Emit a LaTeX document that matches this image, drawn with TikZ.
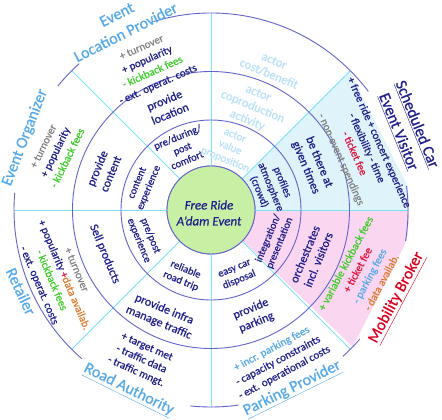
\documentclass[tikz,border=0pt]{standalone}
\usepackage{fontspec}
\setmainfont{Carlito}[FakeBold=0.6]
\definecolor{ringcol}{RGB}{100,100,205}
\definecolor{spokecol}{RGB}{120,228,245}
\definecolor{navy}{RGB}{30,30,140}
\definecolor{lblue}{RGB}{85,170,235}
\definecolor{faintc}{RGB}{185,225,248}
\definecolor{greyc}{RGB}{130,130,130}
\definecolor{greenc}{RGB}{60,205,40}
\definecolor{redc}{RGB}{225,20,60}
\definecolor{orangec}{RGB}{225,125,50}
\definecolor{bluefill}{RGB}{222,243,250}
\definecolor{pinkfill}{RGB}{250,214,240}
\definecolor{hubfill}{RGB}{200,240,165}
\definecolor{redlbl}{RGB}{220,0,30}
\tikzset{
  ring/.style={draw=ringcol, line width=0.9pt},
  spoke/.style={draw=spokecol, line width=0.9pt},
  tone/.style={font=\fontsize{10.5}{12.5}\selectfont, text=navy, align=center, inner sep=0pt},
  ttwo/.style={font=\fontsize{12}{14.5}\selectfont, text=navy, align=center, inner sep=0pt},
  tthree/.style={font=\fontsize{11}{13.5}\selectfont, text=navy, align=center, inner sep=0pt},
  faint/.style={text=faintc},
  lab/.style={font=\fontsize{16}{20}\selectfont, text=lblue, align=center, inner sep=0pt},
}
\begin{document}
\begin{tikzpicture}[x=1pt,y=1pt]
\useasboundingbox (-211,-210) rectangle (231,210);
\fill[white] (-211,-210) rectangle (231,210);
% sector fills
\fill[bluefill] (0,0) -- (45:196pt) -- (7:198pt) arc[start angle=7, end angle=0, radius=198pt] -- cycle;
\fill[pinkfill] (0,0) -- (0:198pt) arc[start angle=0, end angle=-9, radius=198pt] -- (-44:197pt) -- cycle;
% hub (for spoke anchors)
\node[circle, draw=ringcol, line width=0.9pt, fill=hubfill, minimum size=88pt, inner sep=0pt] (hub) at (0,0) {};
% spokes
\foreach \a in {0,45,...,315} { \draw[spoke] (hub.\a) -- (\a:197pt); }
% rings
\draw[ring] (0,0) circle[radius=90pt];
\draw[ring] (0,0) circle[radius=138.5pt];
% outer arcs
\draw[ring] (107:197pt) arc[start angle=107, end angle=37, radius=197pt];
\draw[ring] (7:197pt) arc[start angle=7, end angle=-9, radius=197pt];
\draw[ring] (-41:197pt) arc[start angle=-41, end angle=-48, radius=197pt];
\draw[ring] (-82:197pt) arc[start angle=-82, end angle=-96, radius=197pt];
\draw[ring] (175:197pt) arc[start angle=175, end angle=229, radius=197pt];
\draw[ring] (132:197pt) arc[start angle=132, end angle=141, radius=197pt];
% hub redraw on top
\node[circle, draw=ringcol, line width=0.9pt, fill=hubfill, minimum size=88pt, inner sep=0pt] (hubtop) at (0,0) {};
\node[font=\fontsize{13}{16}\selectfont\itshape, text=navy, align=center, inner sep=0pt] (hubtxt) at (-2,-3) {Free Ride\\A’dam Event};
% ring 1
\node[tone, rotate=22.5] (r1a) at (115:68pt) {pre/during/\\post\\comfort};
\node[tone, faint, font=\fontsize{11}{13}\selectfont, rotate=-22.5] (r1b) at (73:65pt) {actor\\value\\proposition};
\node[tone, rotate=-67.5] (r1c) at (21:64pt) {profiles\\atmosphere\\(crowd)};
\node[tone, rotate=67.5] (r1d) at (-26:70pt) {integration/\\presentation};
\node[tone, rotate=22.5] (r1e) at (-68:70pt) {easy car\\disposal};
\node[tone, rotate=-22.5] (r1f) at (-113:71pt) {reliable\\road trip};
\node[tone, rotate=-67.5] (r1g) at (-157:72pt) {pre/post\\experience};
\node[tone, rotate=67.5] (r1h) at (160:72pt) {content\\experience};
% ring 2
\node[ttwo, rotate=22.5] (r2a) at (113:112pt) {provide\\location};
\node[ttwo, faint, font=\fontsize{12.5}{14.5}\selectfont, rotate=-22.5] (r2b) at (68:111pt) {actor\\coproduction\\activity};
\node[ttwo, rotate=-67.5] (r2c) at (24:111pt) {be there at\\given times};
\node[ttwo, rotate=67.5] (r2d) at (-25:111pt) {orchestrates\\incl. visitors};
\node[ttwo, rotate=22.5] (r2e) at (-68:114pt) {provide\\parking};
\node[ttwo, rotate=-22.5] (r2f) at (-115:117pt) {provide infra\\manage traffic};
\node[ttwo, rotate=-67.5] (r2g) at (-157.5:115pt) {Sell products};
\node[ttwo, rotate=67.5] (r2h) at (160:114pt) {provide\\content};
% ring 3
\node[tthree, rotate=24] (r3a) at (113:156pt) {\textcolor{greyc}{+ turnover}\\+ popularity\\\textcolor{greenc}{- kickback fees}\\- ext. operat. costs};
\node[tthree, faint, font=\fontsize{12.5}{14}\selectfont, rotate=-22.5] (r3b) at (67:155pt) {actor\\cost/benefit};
\node[tthree, rotate=-66] (r3c) at (21.6:160pt) {+ free ride + concert experience\\- flexibility - time\\\textcolor{redc}{- ticket fee}\\[1pt]\textcolor{greyc}{- non-event spendings}};
\node[tthree, rotate=62] (r3d) at (-22.4:165pt) {\textcolor{greenc}{+ variable kickback fees}\\\textcolor{redc}{+ ticket fee}\\\textcolor{lblue}{- parking fees}\\\textcolor{orangec}{- data availab.}};
\node[tthree, rotate=28] (r3e) at (-66:165pt) {\textcolor{lblue}{+ incr. parking fees}\\- capacity constraints\\- ext. operational costs};
\node[tthree, rotate=-24] (r3f) at (-115:165pt) {+ target met\\- traffic data\\- traffic mngt.};
\node[tthree, rotate=-67] (r3g) at (-156.2:168pt) {\textcolor{greyc}{+ turnover}\\+ popularity \textcolor{redc}{+}\textcolor{orangec}{data availab.}\\\textcolor{greenc}{- kickback fees}\\- ext. operat. costs};
\node[tthree, rotate=64] (r3h) at (159.6:166pt) {\textcolor{greyc}{+ turnover}\\+ popularity\\\textcolor{greenc}{- kickback fees}};
% actor labels
\node[lab, rotate=26.7] (LP) at (115.7:207pt) {Event\\Location Provider};
\node[lab, rotate=69] (EO) at (158.7:199.6pt) {Event Organizer};
\node[lab, rotate=-65] (RT) at (-156.8:206.7pt) {Retailer};
\node[lab, rotate=-26.3] (RA) at (-114.6:198pt) {\underline{Road Authority}};
\node[lab, rotate=26.3] (PP) at (-65.5:196.7pt) {\underline{Parking Provider}};
\node[lab, text=redlbl, rotate=62] (MB) at (-25.3:205.8pt) {\underline{Mobility Broker}};
\node[lab, text=navy, rotate=-68] (SC) at (22.6:213pt) {\underline{Scheduled Car}\\\underline{Event Visitor}};
\end{tikzpicture}
\end{document}
